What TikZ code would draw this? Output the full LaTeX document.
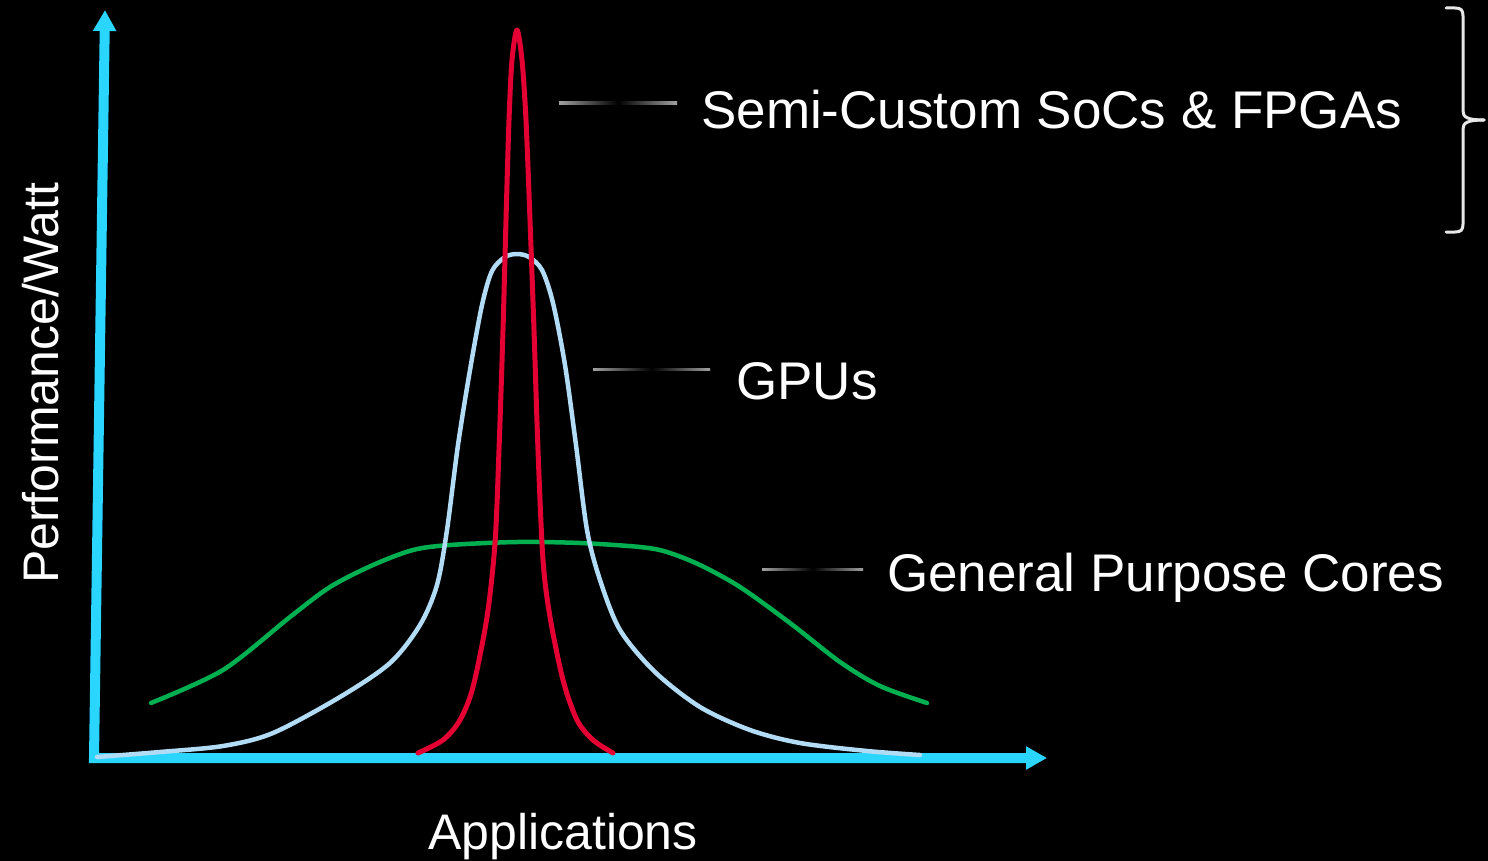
\documentclass[tikz,border=0pt]{standalone}
\usepackage{fontspec}
\setmainfont{Liberation Sans}
\usetikzlibrary{arrows.meta}
\definecolor{axiscyan}{RGB}{42,213,255}
\definecolor{fpgared}{RGB}{228,0,50}
\definecolor{gpublue}{RGB}{178,220,245}
\definecolor{cpugreen}{RGB}{0,176,80}
\definecolor{leadgray}{RGB}{160,160,160}
\definecolor{bracegray}{RGB}{232,232,232}
\tikzset{
  axisline/.style={draw=axiscyan, line width=10pt, line join=miter,
    {Triangle[length=21pt,width=22pt]}-{Triangle[length=21pt,width=22pt]}},
  curve/.style={line width=4.5pt, line cap=round, line join=round},
  label/.style={text=white, font=\fontsize{53}{60}\selectfont, inner sep=0pt, anchor=base west},
  axlabel/.style={text=white, font=\fontsize{50}{58}\selectfont, inner sep=0pt, anchor=base west},
  leader/.style={left color=leadgray, right color=leadgray, middle color=black},
  bracepath/.style={draw=bracegray, line width=3pt, line cap=round, line join=round}
}
\begin{document}
\begin{tikzpicture}[x=1pt,y=-1pt]
\useasboundingbox[fill=black] (0,0) rectangle (1488,861);

% axes
\coordinate (origin) at (94,758);
\coordinate (ytip) at (105,10);
\coordinate (xtip) at (1047,758);
\draw[axisline] (ytip) -- (origin) -- (xtip);

% general purpose cores (green)
\draw[curve, cpugreen] plot[smooth, tension=0.5] coordinates {
 (151,703) (223,670) (290,617) (330,587) (373,565) (413,550) (450,545)
 (517,542) (580,543) (640,547) (667,552) (700,565) (740,587) (790,623)
 (840,662) (880,686) (927,703)};

% GPUs (light blue)
\draw[curve, gpublue] plot[smooth, tension=0.5] coordinates {
 (97,757) (160,752) (223,746) (273,733) (340,697) (390,663) (420,625)
 (437,585) (447,530) (458,445) (470,370) (482,305) (492,271) (505,257)
 (517,254) (529,257) (542,270) (553,303) (565,365) (576,445) (587,530)
 (600,580) (620,630) (655,672) (700,707) (750,730) (800,743) (867,751)
 (920,755)};

% semi-custom SoCs & FPGAs (red)
\draw[curve, fpgared, line width=5pt] plot[smooth, tension=0.5] coordinates {
 (418,753) (443,740) (460,720) (473,687) (487,617) (495,543) (499,450)
 (503,330) (506,220) (509,120) (512,60) (517,30) (522,60) (526,120)
 (530,220) (534,330) (538,450) (543,560) (550,617) (563,680) (577,720)
 (593,740) (613,753)};

% leader lines
\shade[leader] (559,102) rectangle (677,104.5);
\shade[leader] (593,368) rectangle (710,370.5);
\shade[leader] (762,568) rectangle (863,570.5);

% labels
\node[label] (fpga) at (701,129) {Semi-Custom SoCs \& FPGAs};
\node[label] (gpu) at (736,399) {GPUs};
\node[label] (gpc) at (887,591) {General Purpose Cores};
\node[axlabel] (xlab) at (428,849) {Applications};
\node[axlabel, rotate=90] (ylab) at (58,584) {Performance/Watt};

% brace
\draw[bracepath] (1446,8) -- (1455,8) .. controls (1461,8) and (1463,10) .. (1463,16)
  -- (1463,111) .. controls (1463,117) and (1467,120) .. (1484,120);
\draw[bracepath] (1484,120) .. controls (1467,120) and (1463,123) .. (1463,129)
  -- (1463,224) .. controls (1463,230) and (1461,232) .. (1455,232) -- (1446,232);
\end{tikzpicture}
\end{document}
